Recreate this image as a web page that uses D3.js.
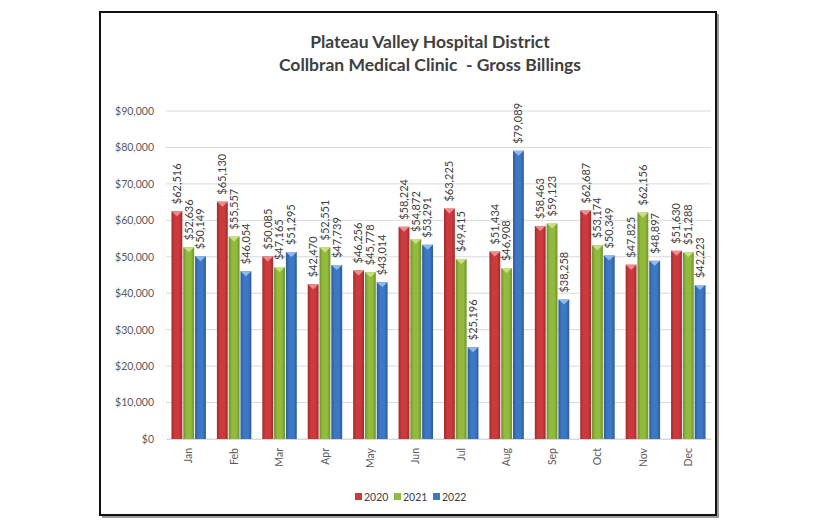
<!DOCTYPE html>
<html><head><meta charset="utf-8">
<script src="https://cdn.jsdelivr.net/npm/d3@7"></script>
<style>body{margin:0;background:#fff;}svg{display:block;}</style>
</head><body>
<svg id="c" width="816" height="528"></svg>
<script>
const months = ["Jan","Feb","Mar","Apr","May","Jun","Jul","Aug","Sep","Oct","Nov","Dec"];
const years = ["2020","2021","2022"];
const v2020 = [62516,65130,50085,42470,46256,58224,63225,51434,58463,62687,47825,51630];
const v2021 = [52636,55557,47165,52551,45778,54872,49415,46908,59123,53174,62156,51288];
const v2022 = [50149,46054,51295,47739,43014,53291,25196,79089,38258,50349,48897,42223];
const yTicks = [0,10000,20000,30000,40000,50000,60000,70000,80000,90000];
const titleLines = ["Plateau Valley Hospital District","Collbran Medical Clinic  - Gross Billings"];

const seriesVals = [v2020, v2021, v2022];
const colors = {base:["#CC3A3D","#92BB3E","#3C78C6"], light:["#EC8C8E","#C8E082","#90B8EA"], dark:["#A02B2D","#6E922C","#2C5B98"]};

const svg = d3.select("#c");
const defs = svg.append("defs");
years.forEach((y,i)=>{
  const g = defs.append("linearGradient").attr("id","g"+i).attr("x1","0").attr("x2","1").attr("y1","0").attr("y2","0");
  g.append("stop").attr("offset","0").attr("stop-color",colors.dark[i]);
  g.append("stop").attr("offset","0.3").attr("stop-color",colors.base[i]);
  g.append("stop").attr("offset","0.7").attr("stop-color",colors.base[i]);
  g.append("stop").attr("offset","1").attr("stop-color",colors.dark[i]);
});

// frame with shadow
svg.append("rect").attr("x",102).attr("y",14).attr("width",617).attr("height",504).attr("fill","#9a9a9a");
svg.append("rect").attr("x",100).attr("y",12).attr("width",616).attr("height",503).attr("fill","#fff").attr("stroke","#111").attr("stroke-width",2);

const ml = 166, mr = 711, mt = 111, mb = 439;
const y = d3.scaleLinear().domain([0,90000]).range([mb, mt]);
const x0 = d3.scaleBand().domain(months).range([ml, mr]).paddingInner(0.2).paddingOuter(0.1);
const x1 = d3.scaleBand().domain(years).range([0, x0.bandwidth()]).padding(0.08);

// gridlines
svg.append("g").selectAll("line").data(yTicks).join("line")
  .attr("x1",ml).attr("x2",mr).attr("y1",d=>y(d)).attr("y2",d=>y(d))
  .attr("stroke","#d9d9d9").attr("stroke-width",1);

// y axis
const yAxis = d3.axisLeft(y).tickValues(yTicks).tickFormat(d=>"$"+d3.format(",")(d)).tickSize(0).tickPadding(12);
const ya = svg.append("g").attr("transform",`translate(${ml},0)`).call(yAxis);
ya.select(".domain").remove();
ya.selectAll("text").attr("font-family","Lato, 'Open Sans', sans-serif").attr("font-size",10.5).attr("fill","#595959");

// x axis
const xAxis = d3.axisBottom(x0).tickSize(0).tickPadding(0);
const xa = svg.append("g").attr("transform",`translate(0,${mb})`).call(xAxis);
xa.select(".domain").attr("stroke","#d9d9d9");
xa.selectAll("text").attr("font-family","Lato, 'Open Sans', sans-serif").attr("font-size",10.5).attr("fill","#595959")
  .attr("transform","rotate(-90)").attr("text-anchor","end").attr("dy","0.35em").attr("x",-9).attr("y",0);

// bars
const groups = svg.append("g").selectAll("g").data(months).join("g").attr("transform",d=>`translate(${x0(d)},0)`);
years.forEach((yr,i)=>{
  const vals = seriesVals[i];
  groups.append("rect")
    .attr("x",x1(yr)).attr("width",x1.bandwidth())
    .attr("y",(d,j)=>y(vals[j])).attr("height",(d,j)=>mb - y(vals[j]))
    .attr("fill",`url(#g${i})`);
  groups.append("path")
    .attr("d",(d,j)=>{const bx=x1(yr), bw=x1.bandwidth(), by=y(vals[j]);
      return `M${bx},${by}L${bx+bw},${by}L${bx+bw/2},${by+5}Z`;})
    .attr("fill",colors.light[i]);
  groups.append("text")
    .attr("transform",(d,j)=>`translate(${x1(yr)+x1.bandwidth()/2},${y(vals[j])-7}) rotate(-90)`)
    .attr("dy","0.35em").attr("text-anchor","start")
    .attr("font-family","Lato, 'Open Sans', sans-serif").attr("font-size",11).attr("fill","#404040")
    .text((d,j)=>"$"+d3.format(",")(vals[j]));
});

// title
svg.append("g").selectAll("text").data(titleLines).join("text")
  .attr("x",430).attr("y",(d,i)=>48+i*23).attr("text-anchor","middle")
  .style("white-space","pre")
  .attr("font-family","Lato, 'Open Sans', sans-serif").attr("font-weight","bold").attr("font-size",17.5).attr("fill","#404040")
  .text(d=>d);

// legend
const lg = svg.append("g").attr("transform","translate(355,497)");
const lx = [0,39,78];
years.forEach((yr,i)=>{
  lg.append("rect").attr("x",lx[i]).attr("y",-4).attr("width",7).attr("height",7).attr("fill",colors.base[i]);
  lg.append("text").attr("x",lx[i]+9).attr("y",0).attr("dy","0.35em")
    .attr("font-family","Lato, 'Open Sans', sans-serif").attr("font-size",10.5).attr("fill","#404040").text(yr);
});
</script>
</body></html>
